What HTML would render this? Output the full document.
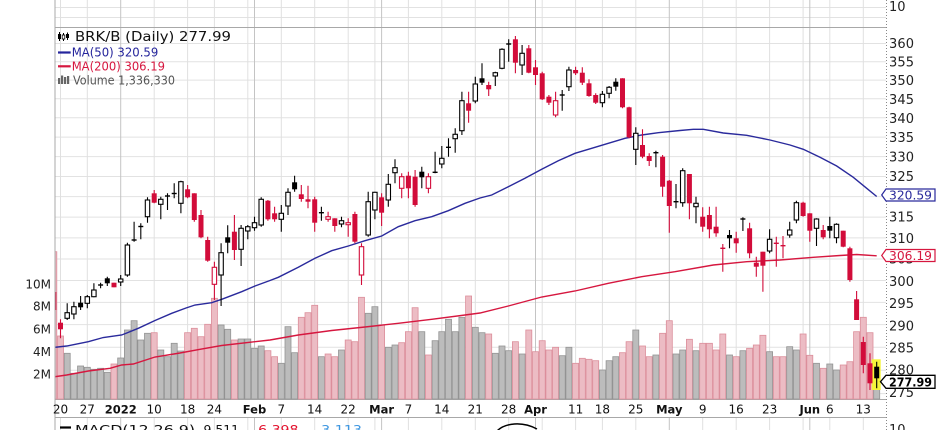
<!DOCTYPE html>
<html><head><meta charset="utf-8"><style>
html,body{margin:0;padding:0;background:#fff;}
svg{display:block;font-family:"DejaVu Sans","Liberation Sans",sans-serif;}
.vg{stroke:#e0e0e0;stroke-width:1;}
.vm{stroke:#c4c4c4;stroke-width:1;}
.hg{stroke:#e2e2e2;stroke-width:1;}
.g{fill:#bcbcbc;stroke:#939393;stroke-width:.8;}
.r{fill:#ecbcc4;stroke:#dc8e9b;stroke-width:.8;}
.bh{fill:#fff;stroke:#000;stroke-width:1.1;}
.bf{fill:#000;}
.rf{fill:#d20c3a;}
.rh{fill:#fff;stroke:#d20c3a;stroke-width:1.1;}
.ax{font-size:13px;fill:#222;}
.dt{font-size:12px;fill:#111;text-anchor:middle;}
.db{font-size:11.5px;font-weight:bold;fill:#111;text-anchor:middle;}
</style></head><body>
<svg width="936" height="430" viewBox="0 0 936 430" xmlns="http://www.w3.org/2000/svg">
<defs><clipPath id="pc"><rect x="55.5" y="28" width="830.5" height="371.5"/></clipPath></defs>
<rect width="936" height="430" fill="#fff"/>
<!-- horizontal grid -->
<g class="hg">
<line x1="55" y1="7.5" x2="886" y2="7.5"/><line x1="55" y1="17.5" x2="886" y2="17.5"/>
<line x1="55" y1="43.5" x2="886" y2="43.5"/><line x1="55" y1="61.7" x2="886" y2="61.7"/>
<line x1="55" y1="80.1" x2="886" y2="80.1"/><line x1="55" y1="98.8" x2="886" y2="98.8"/>
<line x1="55" y1="117.8" x2="886" y2="117.8"/><line x1="55" y1="137.1" x2="886" y2="137.1"/>
<line x1="55" y1="156.6" x2="886" y2="156.6"/><line x1="55" y1="176.5" x2="886" y2="176.5"/>
<line x1="55" y1="196.6" x2="886" y2="196.6"/><line x1="55" y1="217.1" x2="886" y2="217.1"/>
<line x1="55" y1="237.9" x2="886" y2="237.9"/><line x1="55" y1="259" x2="886" y2="259"/>
<line x1="55" y1="280.5" x2="886" y2="280.5"/><line x1="55" y1="302.4" x2="886" y2="302.4"/>
<line x1="55" y1="324.6" x2="886" y2="324.6"/><line x1="55" y1="347.2" x2="886" y2="347.2"/>
<line x1="55" y1="370.2" x2="886" y2="370.2"/><line x1="55" y1="393.6" x2="886" y2="393.6"/>
</g>
<!-- vertical grid -->
<g class="vg">
<path d="M60.5 0V399.5M87.3 0V399.5M154.2 0V399.5M187.6 0V399.5M214.4 0V399.5M247.8 0V399.5M281.3 0V399.5M314.7 0V399.5M348.2 0V399.5M374.9 0V399.5M408.4 0V399.5M441.8 0V399.5M475.3 0V399.5M508.7 0V399.5M542.2 0V399.5M575.6 0V399.5M602.4 0V399.5M635.8 0V399.5M702.7 0V399.5M736.2 0V399.5M769.6 0V399.5M803.1 0V399.5M829.8 0V399.5M863.3 0V399.5"/>
<path d="M60.5 418V430M87.3 418V430M154.2 418V430M187.6 418V430M214.4 418V430M247.8 418V430M281.3 418V430M314.7 418V430M348.2 418V430M374.9 418V430M408.4 418V430M441.8 418V430M475.3 418V430M508.7 418V430M542.2 418V430M575.6 418V430M602.4 418V430M635.8 418V430M702.7 418V430M736.2 418V430M769.6 418V430M803.1 418V430M829.8 418V430M863.3 418V430"/>
</g>
<g class="vm">
<path d="M120.7 0V399.5M254.5 0V399.5M381.6 0V399.5M535.5 0V399.5M669.3 0V399.5M809.8 0V399.5M120.7 418V430M254.5 418V430M381.6 418V430M535.5 418V430M669.3 418V430M809.8 418V430"/>
</g>
<!-- borders -->
<g stroke="#a8a8a8" stroke-width="1" fill="none">
<line x1="55" y1="0" x2="55" y2="430"/>
<line x1="55" y1="27.5" x2="886" y2="27.5"/>
<line x1="55" y1="399.5" x2="886" y2="399.5"/>
<line x1="55" y1="417.5" x2="886" y2="417.5"/>
</g>
<line x1="886.5" y1="0" x2="886.5" y2="430" stroke="#888" stroke-width="1" stroke-dasharray="1,2"/>

<g clip-path="url(#pc)">
<!-- volume -->
<rect class="r" x="50.8" y="251.7" width="6" height="147.3"/><rect class="r" x="57.5" y="336" width="6" height="63"/><rect class="g" x="64.2" y="353.3" width="6" height="45.7"/><rect class="g" x="70.9" y="373.3" width="6" height="25.7"/><rect class="g" x="77.6" y="366" width="6" height="33"/><rect class="g" x="84.3" y="367.3" width="6" height="31.7"/><rect class="g" x="90.9" y="369.3" width="6" height="29.7"/><rect class="g" x="97.6" y="368.3" width="6" height="30.7"/><rect class="g" x="104.3" y="372.3" width="6" height="26.7"/><rect class="r" x="111" y="364" width="6" height="35"/>
<rect class="g" x="117.7" y="358" width="6" height="41"/><rect class="g" x="124.4" y="330" width="6" height="69"/><rect class="g" x="131.1" y="320.7" width="6" height="78.3"/><rect class="g" x="137.8" y="340" width="6" height="59"/><rect class="g" x="144.5" y="333.3" width="6" height="65.7"/><rect class="r" x="151.2" y="332.7" width="6" height="66.3"/><rect class="g" x="157.8" y="350" width="6" height="49"/><rect class="g" x="164.5" y="356.7" width="6" height="42.3"/><rect class="g" x="171.2" y="343.3" width="6" height="55.7"/><rect class="g" x="177.9" y="351" width="6" height="48"/>
<rect class="r" x="184.6" y="332.7" width="6" height="66.3"/><rect class="r" x="191.3" y="328.3" width="6" height="70.7"/><rect class="r" x="198" y="336.7" width="6" height="62.3"/><rect class="r" x="204.7" y="324.3" width="6" height="74.7"/><rect class="r" x="211.4" y="298.3" width="6" height="100.7"/><rect class="g" x="218.1" y="325" width="6" height="74"/><rect class="g" x="224.7" y="329.3" width="6" height="69.7"/><rect class="r" x="231.4" y="340" width="6" height="59"/><rect class="g" x="238.1" y="339" width="6" height="60"/><rect class="g" x="244.8" y="339" width="6" height="60"/>
<rect class="g" x="251.5" y="348.3" width="6" height="50.7"/><rect class="g" x="258.2" y="346" width="6" height="53"/><rect class="r" x="264.9" y="350.7" width="6" height="48.3"/><rect class="r" x="271.6" y="356.7" width="6" height="42.3"/><rect class="g" x="278.3" y="363.3" width="6" height="35.7"/><rect class="g" x="285" y="326.7" width="6" height="72.3"/><rect class="g" x="291.6" y="352.7" width="6" height="46.3"/><rect class="r" x="298.3" y="317.3" width="6" height="81.7"/><rect class="r" x="305" y="312.7" width="6" height="86.3"/><rect class="r" x="311.7" y="305.3" width="6" height="93.7"/>
<rect class="g" x="318.4" y="356.7" width="6" height="42.3"/><rect class="r" x="325.1" y="354" width="6" height="45"/><rect class="r" x="331.8" y="356.7" width="6" height="42.3"/><rect class="g" x="338.5" y="350" width="6" height="49"/><rect class="r" x="345.2" y="340" width="6" height="59"/><rect class="r" x="351.9" y="341.7" width="6" height="57.3"/><rect class="r" x="358.5" y="297.3" width="6" height="101.7"/><rect class="g" x="365.2" y="313.3" width="6" height="85.7"/><rect class="g" x="371.9" y="306.7" width="6" height="92.3"/><rect class="r" x="378.6" y="325" width="6" height="74"/>
<rect class="g" x="385.3" y="347.3" width="6" height="51.7"/><rect class="g" x="392" y="345" width="6" height="54"/><rect class="r" x="398.7" y="342.7" width="6" height="56.3"/><rect class="r" x="405.4" y="331.7" width="6" height="67.3"/><rect class="r" x="412.1" y="307.7" width="6" height="91.3"/><rect class="g" x="418.8" y="331.7" width="6" height="67.3"/><rect class="r" x="425.4" y="355" width="6" height="44"/><rect class="g" x="432.1" y="340.7" width="6" height="58.3"/><rect class="g" x="438.8" y="331.7" width="6" height="67.3"/><rect class="g" x="445.5" y="319.3" width="6" height="79.7"/>
<rect class="g" x="452.2" y="331.7" width="6" height="67.3"/><rect class="g" x="458.9" y="317.3" width="6" height="81.7"/><rect class="r" x="465.6" y="296" width="6" height="103"/><rect class="g" x="472.3" y="327.3" width="6" height="71.7"/><rect class="g" x="479" y="332.7" width="6" height="66.3"/><rect class="r" x="485.7" y="334" width="6" height="65"/><rect class="g" x="492.3" y="353.3" width="6" height="45.7"/><rect class="g" x="499" y="346" width="6" height="53"/><rect class="g" x="505.7" y="350.7" width="6" height="48.3"/><rect class="r" x="512.4" y="341.7" width="6" height="57.3"/>
<rect class="g" x="519.1" y="354" width="6" height="45"/><rect class="r" x="525.8" y="330" width="6" height="69"/><rect class="r" x="532.5" y="351.7" width="6" height="47.3"/><rect class="r" x="539.2" y="340.7" width="6" height="58.3"/><rect class="r" x="545.9" y="350" width="6" height="49"/><rect class="r" x="552.6" y="347.3" width="6" height="51.7"/><rect class="g" x="559.2" y="355.7" width="6" height="43.3"/><rect class="g" x="565.9" y="347.3" width="6" height="51.7"/><rect class="r" x="572.6" y="363.3" width="6" height="35.7"/><rect class="r" x="579.3" y="358.3" width="6" height="40.7"/>
<rect class="r" x="586" y="359.3" width="6" height="39.7"/><rect class="r" x="592.7" y="360.7" width="6" height="38.3"/><rect class="g" x="599.4" y="370" width="6" height="29"/><rect class="g" x="606.1" y="360.7" width="6" height="38.3"/><rect class="g" x="612.8" y="356.7" width="6" height="42.3"/><rect class="r" x="619.5" y="352.7" width="6" height="46.3"/><rect class="r" x="626.1" y="341.7" width="6" height="57.3"/><rect class="g" x="632.8" y="330" width="6" height="69"/><rect class="r" x="639.5" y="346" width="6" height="53"/><rect class="r" x="646.2" y="356.7" width="6" height="42.3"/>
<rect class="g" x="652.9" y="355" width="6" height="44"/><rect class="r" x="659.6" y="333.3" width="6" height="65.7"/><rect class="r" x="666.3" y="320.7" width="6" height="78.3"/><rect class="g" x="673" y="354" width="6" height="45"/><rect class="g" x="679.7" y="350" width="6" height="49"/><rect class="r" x="686.4" y="339.3" width="6" height="59.7"/><rect class="g" x="693" y="350.7" width="6" height="48.3"/><rect class="r" x="699.7" y="343.3" width="6" height="55.7"/><rect class="r" x="706.4" y="343.3" width="6" height="55.7"/><rect class="r" x="713.1" y="350" width="6" height="49"/>
<rect class="r" x="719.8" y="334" width="6" height="65"/><rect class="g" x="726.5" y="355" width="6" height="44"/><rect class="r" x="733.2" y="356.7" width="6" height="42.3"/><rect class="g" x="739.9" y="350.7" width="6" height="48.3"/><rect class="r" x="746.6" y="348.3" width="6" height="50.7"/><rect class="r" x="753.3" y="345" width="6" height="54"/><rect class="r" x="759.9" y="335.3" width="6" height="63.7"/><rect class="g" x="766.6" y="351.7" width="6" height="47.3"/><rect class="r" x="773.3" y="356.7" width="6" height="42.3"/><rect class="r" x="780" y="356.7" width="6" height="42.3"/>
<rect class="g" x="786.7" y="346.7" width="6" height="52.3"/><rect class="g" x="793.4" y="350" width="6" height="49"/><rect class="r" x="800.1" y="334" width="6" height="65"/><rect class="r" x="806.8" y="355.3" width="6" height="43.7"/><rect class="g" x="813.5" y="363.3" width="6" height="35.7"/><rect class="r" x="820.2" y="368.3" width="6" height="30.7"/><rect class="g" x="826.8" y="364" width="6" height="35"/><rect class="g" x="833.5" y="370" width="6" height="29"/><rect class="r" x="840.2" y="365" width="6" height="34"/><rect class="r" x="846.9" y="361.7" width="6" height="37.3"/>
<rect class="r" x="853.6" y="331.7" width="6" height="67.3"/><rect class="r" x="860.3" y="317.3" width="6" height="81.7"/><rect class="r" x="867" y="332.7" width="6" height="66.3"/><rect class="g" x="873.7" y="384" width="6" height="15"/>

<!-- moving averages -->
<polyline fill="none" stroke="#d6173f" stroke-width="1.4" points="55,376.7 66.7,375 88.3,371 110,368.3 121.7,365 133.3,364 155,357 180,353 200,349.3 221.7,345.5 255,341.7 270,340 298.3,335 331.7,330.5 365,327 398.3,323.3 431.7,319.3 465,315 480,313 508.3,306 541.7,297 575,291 608.3,283.3 641.7,276.7 675,271.7 713.3,265 746.7,261.7 780,260 813.3,257.3 840,255.5 856.7,254.5 876.7,255.8"/>
<polyline fill="none" stroke="#2a2a9c" stroke-width="1.4" points="55,347.3 66.7,346 88.3,341.7 103.3,337.5 121.7,335 138.3,328.3 155,320.5 171.7,313.3 186,308 195,305 211.7,302.7 221.7,299.3 241.7,291.7 255,286 270,280.5 278.3,277.3 298.3,267.3 315,258.3 331.7,250.7 348.3,246 365,240.7 381.7,236 398.3,226.7 415,220.7 431.7,216.7 448.3,210.7 465,203.3 480,198 491.7,195 508.3,186.7 525,178.3 541.7,169.3 558.3,160.7 575,153.3 591.7,148.3 608.3,143.3 625,138.3 641.7,135 658.3,132.7 680,130.5 693.3,129.3 703.3,129.3 723.3,133 746.7,135.3 770,140 790,145 803.3,149.3 820,157.3 836.7,166 853.3,177.3 866.7,188.3 876.7,196.5"/>

<rect x="871.7" y="359.3" width="9" height="30.7" fill="#f5f53a"/>

<!-- wicks -->
<path fill="none" stroke="#000" stroke-width="1.1" d="M67.2 303.3V320M73.9 301.7V319.3M80.6 296V310M87.3 295V308.3M93.9 283.3V297.3M100.6 282.7V288.3M107.3 276.7V286M120.7 275V286M127.4 242.7V276.7M134.1 221.7V241.7M140.8 223.3V239.3M147.5 197.3V222.7M160.8 196.7V219.3M167.5 193.3V210M174.2 183.3V198.3M180.9 180.7V213.3M221.1 243.3V306M227.7 225.3V253.3M241.1 225V266M247.8 225V239.3M254.5 216.7V230.7M261.2 197.3V226.7M281.3 205V231.7M288 188.3V215M294.6 175.7V191.7M321.4 206.7V220.7M341.5 216.7V227.3M368.2 191.7V236.7M374.9 191.7V219.3M388.3 174V206.7M395 159.3V183.3M421.8 166.7V188.3M435.1 151.7V173.3M441.8 146V168.3M448.5 138.3V156.7M455.2 128.3V152.7M461.9 91.7V135M475.3 76.7V103.3M482 63.3V85M495.3 71.7V86M502 48.3V69.3M508.7 39.3V61.7M522.1 45V75M562.2 90V110.7M568.9 66.7V91M602.4 91V107.3M609.1 86V98.3M615.8 78.3V90.7M635.8 127.3V165M655.9 150.7V167.3M676 184V208.3M682.7 168.3V206.7M696 196.7V223.3M729.5 230V248.3M742.9 217.3V231M769.6 229.3V253.3M789.7 221.7V237.7M796.4 200.7V223.3M816.5 218.3V246M829.8 216.7V238.3M836.5 223.3V243.3M876.7 361.7V388.3"/>
<path fill="none" stroke="#d20c3a" stroke-width="1.1" d="M53.8 290V312M60.5 319.3V338.3M114 282.7V287.3M154.2 190V203.3M187.6 185V198.3M194.3 193.3V221.7M201 210V238.3M207.7 236.7V261.7M214.4 261.7V300M234.4 215V260M267.9 200V220.7M274.6 206.7V221.7M301.3 185V201.7M308 185.7V208.3M314.7 196.7V231.7M328.1 211.7V221.7M334.8 218.3V231.7M348.2 218.3V236.7M354.9 211.7V243.3M361.5 243.3V285M381.6 193.3V226M401.7 173.3V198.3M408.4 171.7V198.3M415.1 170V206.7M428.4 173.3V193.3M468.6 91.7V122.7M488.7 81.7V96M515.4 36V73.3M528.8 45V73.3M535.5 60V85M542.2 71.7V100M548.9 95V105M555.6 91.7V117.3M575.6 66.7V75M582.3 67.3V85M589 79.3V96.7M595.7 93.3V104M622.5 78.3V108.3M629.1 106.7V138.3M642.5 129.3V158.3M649.2 153.3V166M662.6 155V196.7M669.3 180V232.7M689.4 174V219.3M702.7 207.3V231.7M709.4 206.7V238.3M716.1 206.7V236.7M722.8 244V271.7M736.2 231.7V252.7M749.6 222.7V258.3M756.3 256.7V276.7M762.9 251.7V291.7M776.3 236.7V266.7M783 236V258.3M803.1 201.7V216.7M809.8 213.3V241.7M823.2 225V239.3M843.2 230.7V247.3M849.9 246.7V281.7M856.6 291V320M863.3 336.7V373.3M870 353.3V390"/>

<!-- black hollow bodies -->
<g class="bh">
<rect x="65" y="312.7" width="4.4" height="5.6"/><rect x="71.7" y="306.7" width="4.4" height="7.3"/><rect x="85.1" y="296.7" width="4.4" height="6.6"/><rect x="91.7" y="290" width="4.4" height="6.7"/><rect x="118.5" y="279" width="4.4" height="3"/><rect x="125.2" y="245" width="4.4" height="30"/><rect x="145.3" y="200" width="4.4" height="16.7"/><rect x="158.6" y="199.3" width="4.4" height="5"/><rect x="178.7" y="181.7" width="4.4" height="21.6"/><rect x="218.9" y="252.7" width="4.4" height="22.3"/>
<rect x="238.9" y="228.3" width="4.4" height="21"/><rect x="245.6" y="226.7" width="4.4" height="4.3"/><rect x="252.3" y="222.7" width="4.4" height="5"/><rect x="259" y="199.3" width="4.4" height="25.7"/><rect x="279.1" y="213.3" width="4.4" height="6"/><rect x="285.8" y="192.3" width="4.4" height="13.7"/><rect x="339.3" y="220.7" width="4.4" height="3.3"/><rect x="366" y="201.7" width="4.4" height="33.3"/><rect x="372.7" y="192.3" width="4.4" height="17.7"/><rect x="386.1" y="184.3" width="4.4" height="15.7"/>
<rect x="392.8" y="167.7" width="4.4" height="5"/><rect x="439.6" y="158.3" width="4.4" height="5.7"/><rect x="453" y="134.3" width="4.4" height="4.4"/><rect x="459.7" y="100.7" width="4.4" height="30"/><rect x="473.1" y="84" width="4.4" height="17"/><rect x="493.1" y="72.7" width="4.4" height="3.3"/><rect x="499.8" y="49.3" width="4.4" height="19"/><rect x="519.9" y="53.3" width="4.4" height="11.7"/><rect x="566.7" y="70" width="4.4" height="16.7"/><rect x="600.2" y="94.3" width="4.4" height="8.4"/>
<rect x="606.9" y="87.3" width="4.4" height="6"/><rect x="633.6" y="133.3" width="4.4" height="16"/><rect x="680.5" y="170.7" width="4.4" height="32"/><rect x="693.8" y="203.3" width="4.4" height="3.4"/><rect x="767.4" y="239.3" width="4.4" height="11.7"/><rect x="787.5" y="230" width="4.4" height="5"/><rect x="794.2" y="202.7" width="4.4" height="17.3"/><rect x="814.3" y="219" width="4.4" height="9.3"/><rect x="834.3" y="224.3" width="4.4" height="13.4"/>
</g>
<!-- black filled bodies & crosses -->
<g class="bf">
<rect x="78.1" y="302.7" width="5" height="4.6"/><rect x="104.8" y="278.3" width="5" height="5"/><rect x="225.2" y="237.3" width="5" height="5.4"/><rect x="292.1" y="182.3" width="5" height="7"/><rect x="419.3" y="171.7" width="5" height="5.6"/><rect x="479.5" y="78.3" width="5" height="4.4"/><rect x="613.3" y="81.7" width="5" height="5"/><rect x="727" y="235" width="5" height="3.3"/><rect x="827.3" y="226" width="5" height="4.7"/><rect x="874.2" y="366.7" width="5" height="11.6"/>
<rect x="98.1" y="284.3" width="5" height="1.4"/><rect x="131.6" y="239.3" width="5" height="1.4"/><rect x="138.3" y="225.8" width="5" height="1.4"/><rect x="165" y="195.3" width="5" height="1.4"/><rect x="171.7" y="192.8" width="5" height="1.4"/><rect x="318.9" y="212" width="5" height="1.4"/><rect x="432.6" y="171.6" width="5" height="1.4"/><rect x="446" y="146.6" width="5" height="1.4"/><rect x="506.2" y="43.3" width="5" height="1.4"/><rect x="559.7" y="94.3" width="5" height="1.4"/><rect x="653.4" y="152" width="5" height="1.4"/><rect x="673.5" y="201" width="5" height="1.4"/><rect x="740.4" y="218.3" width="5" height="1.4"/>
</g>
<!-- red filled bodies -->
<g class="rf">
<rect x="51.3" y="292" width="5" height="18"/><rect x="58" y="322.7" width="5" height="6.6"/><rect x="111.5" y="282.7" width="5" height="4.6"/><rect x="151.7" y="193.3" width="5" height="9.4"/><rect x="185.1" y="189.3" width="5" height="8"/><rect x="191.8" y="193.3" width="5" height="26.7"/><rect x="198.5" y="215" width="5" height="22.3"/><rect x="205.2" y="240" width="5" height="20.7"/><rect x="231.9" y="231.7" width="5" height="18.3"/><rect x="265.4" y="200.7" width="5" height="18.6"/>
<rect x="272.1" y="213.3" width="5" height="6"/><rect x="298.8" y="194.3" width="5" height="4.7"/><rect x="305.5" y="199.3" width="5" height="2.4"/><rect x="312.2" y="199.3" width="5" height="23.4"/><rect x="332.3" y="218.3" width="5" height="7.7"/><rect x="352.4" y="214" width="5" height="27.7"/><rect x="379.1" y="197.3" width="5" height="15.4"/><rect x="405.9" y="175.7" width="5" height="12.6"/><rect x="412.6" y="176.7" width="5" height="28.3"/><rect x="466.1" y="103.3" width="5" height="7.4"/>
<rect x="486.2" y="85" width="5" height="4.3"/><rect x="512.9" y="39.3" width="5" height="23.4"/><rect x="526.3" y="48.3" width="5" height="24.4"/><rect x="533" y="67.3" width="5" height="7.7"/><rect x="539.7" y="73.3" width="5" height="26"/><rect x="546.4" y="96.7" width="5" height="6"/><rect x="573.1" y="70" width="5" height="3.3"/><rect x="579.8" y="72.7" width="5" height="10"/><rect x="586.5" y="83.3" width="5" height="12.7"/><rect x="593.2" y="95" width="5" height="7.7"/>
<rect x="620" y="78.3" width="5" height="29"/><rect x="626.6" y="107.3" width="5" height="30"/><rect x="640" y="145" width="5" height="11.7"/><rect x="646.7" y="156" width="5" height="5"/><rect x="660.1" y="156.7" width="5" height="30"/><rect x="666.8" y="180.7" width="5" height="25.3"/><rect x="686.9" y="174" width="5" height="29.3"/><rect x="700.2" y="216.7" width="5" height="10"/><rect x="706.9" y="215" width="5" height="14.3"/><rect x="713.6" y="226.7" width="5" height="6.6"/>
<rect x="733.7" y="238.3" width="5" height="5"/><rect x="747.1" y="228.3" width="5" height="25"/><rect x="753.8" y="262.7" width="5" height="4"/><rect x="760.4" y="251.7" width="5" height="14"/><rect x="800.6" y="202.7" width="5" height="13.3"/><rect x="807.3" y="213.3" width="5" height="17.4"/><rect x="820.7" y="230" width="5" height="7.3"/><rect x="840.7" y="230.7" width="5" height="16"/><rect x="847.4" y="248.3" width="5" height="31.7"/><rect x="854.1" y="299.3" width="5" height="20.7"/>
<rect x="860.8" y="342" width="5" height="23"/><rect x="867.5" y="363.3" width="5" height="20"/>
<rect x="720.3" y="247.6" width="5" height="1.4"/><rect x="773.8" y="242.6" width="5" height="1.4"/><rect x="780.5" y="245" width="5" height="1.4"/>
</g>
<g class="rh">
<rect x="212.2" y="267.3" width="4.4" height="17"/><rect x="325.9" y="216.7" width="4.4" height="2.6"/><rect x="346" y="222.7" width="4.4" height="2"/><rect x="359.3" y="246.7" width="4.4" height="28.3"/><rect x="399.5" y="176.7" width="4.4" height="11.6"/><rect x="426.2" y="176.7" width="4.4" height="11.6"/><rect x="553.4" y="100.7" width="4.4" height="14.3"/>
</g>
</g>

<!-- MACD panel hint -->
<path d="M497 431 C505 423 522 421 537 429" fill="none" stroke="#000" stroke-width="1.5"/>

<!-- legend -->
<g>
<path d="M59.5 32V41M63.5 33V41M67.5 32.5V40" stroke="#000" stroke-width="1"/>
<rect x="58" y="34" width="3" height="5" fill="#000"/><rect x="62.2" y="35" width="2.6" height="4" fill="#fff" stroke="#000" stroke-width=".8"/><rect x="66" y="34" width="3" height="4" fill="#000"/>
<text x="75" y="41" font-size="13" fill="#111" textLength="156" lengthAdjust="spacingAndGlyphs">BRK/B (Daily) 277.99</text>
<line x1="58" y1="52.5" x2="70.7" y2="52.5" stroke="#25259c" stroke-width="2.2"/>
<text x="71.7" y="56.7" font-size="12" fill="#25259c" textLength="86.6" lengthAdjust="spacingAndGlyphs">MA(50) 320.59</text>
<line x1="58" y1="66.3" x2="70.7" y2="66.3" stroke="#d6173f" stroke-width="2.2"/>
<text x="71.7" y="70.6" font-size="12" fill="#d6173f" textLength="93.3" lengthAdjust="spacingAndGlyphs">MA(200) 306.19</text>
<g fill="#666"><rect x="58" y="78" width="2.2" height="6"/><rect x="61" y="75.5" width="2.2" height="8.5"/><rect x="64" y="77" width="2.2" height="7"/><rect x="67" y="76" width="2.2" height="8"/></g>
<text x="73" y="84.3" font-size="12" fill="#555" textLength="102" lengthAdjust="spacingAndGlyphs">Volume 1,336,330</text>
</g>

<!-- MACD legend -->
<line x1="60" y1="427.5" x2="71" y2="427.5" stroke="#000" stroke-width="2.2"/>
<text x="75" y="434" font-size="12" fill="#111" textLength="120" lengthAdjust="spacingAndGlyphs">MACD(12,26,9)</text>
<text x="199" y="434" font-size="12" fill="#111" textLength="44" lengthAdjust="spacingAndGlyphs">-9.511,</text>
<text x="253" y="434" font-size="12" fill="#e3122e" textLength="50" lengthAdjust="spacingAndGlyphs">-6.398,</text>
<text x="316" y="434" font-size="12" fill="#3f97e0" textLength="46" lengthAdjust="spacingAndGlyphs">-3.113</text>

<!-- right axis -->
<g class="ax">
<text x="889" y="11">10</text>
<text x="889" y="434">10</text>
<text x="889" y="48" textLength="25">360</text>
<text x="889" y="66.4" textLength="25">355</text>
<text x="889" y="85" textLength="25">350</text>
<text x="889" y="103.8" textLength="25">345</text>
<text x="889" y="123" textLength="25">340</text>
<text x="889" y="142" textLength="25">335</text>
<text x="889" y="161.5" textLength="25">330</text>
<text x="889" y="181" textLength="25">325</text>
<text x="889" y="221.5" textLength="25">315</text>
<text x="889" y="243" textLength="25">310</text>
<text x="889" y="263.5" textLength="25">305</text>
<text x="889" y="286" textLength="25">300</text>
<text x="889" y="308" textLength="25">295</text>
<text x="889" y="330.5" textLength="25">290</text>
<text x="889" y="352.5" textLength="25">285</text>
<text x="889" y="374.5" textLength="25">280</text>
<text x="889" y="397" textLength="25">275</text>
</g>
<!-- price boxes -->
<polygon points="881.7,195 886,189 935,189 935,201 886,201" fill="#fff" stroke="#2a2a9c" stroke-width="1.2"/>
<text x="889" y="199.5" font-size="12.5" fill="#2a2a9c" textLength="43" lengthAdjust="spacingAndGlyphs">320.59</text>
<polygon points="881.7,255.5 886,249.5 935,249.5 935,261.5 886,261.5" fill="#fff" stroke="#d6173f" stroke-width="1.2"/>
<text x="889" y="260" font-size="12.5" fill="#d6173f" textLength="43" lengthAdjust="spacingAndGlyphs">306.19</text>
<polygon points="880.5,381.7 886,375.3 935,375.3 935,388.3 886,388.3" fill="#fff" stroke="#000" stroke-width="1.3"/>
<text x="889" y="386.3" font-size="12.5" font-weight="bold" fill="#000" textLength="43" lengthAdjust="spacingAndGlyphs">277.99</text>

<!-- left volume axis -->
<g font-size="12" fill="#222" text-anchor="end">
<text x="51" y="288.3">10M</text>
<text x="51" y="310.7">8M</text>
<text x="51" y="333.3">6M</text>
<text x="51" y="356">4M</text>
<text x="51" y="378.3">2M</text>
</g>

<!-- date axis -->
<g>
<text class="dt" x="60.5" y="413.5">20</text>
<text class="dt" x="87.3" y="413.5">27</text>
<text class="db" x="120.7" y="413.5">2022</text>
<text class="dt" x="154.2" y="413.5">10</text>
<text class="dt" x="187.6" y="413.5">18</text>
<text class="dt" x="214.4" y="413.5">24</text>
<text class="db" x="254.5" y="413.5">Feb</text>
<text class="dt" x="281.3" y="413.5">7</text>
<text class="dt" x="314.7" y="413.5">14</text>
<text class="dt" x="348.2" y="413.5">22</text>
<text class="db" x="381.6" y="413.5">Mar</text>
<text class="dt" x="408.4" y="413.5">7</text>
<text class="dt" x="441.8" y="413.5">14</text>
<text class="dt" x="475.3" y="413.5">21</text>
<text class="dt" x="508.7" y="413.5">28</text>
<text class="db" x="535.5" y="413.5">Apr</text>
<text class="dt" x="575.6" y="413.5">11</text>
<text class="dt" x="602.4" y="413.5">18</text>
<text class="dt" x="635.8" y="413.5">25</text>
<text class="db" x="669.3" y="413.5">May</text>
<text class="dt" x="702.7" y="413.5">9</text>
<text class="dt" x="736.2" y="413.5">16</text>
<text class="dt" x="769.6" y="413.5">23</text>
<text class="db" x="809.8" y="413.5">Jun</text>
<text class="dt" x="829.8" y="413.5">6</text>
<text class="dt" x="863.3" y="413.5">13</text>
</g>
</svg>
</body></html>
